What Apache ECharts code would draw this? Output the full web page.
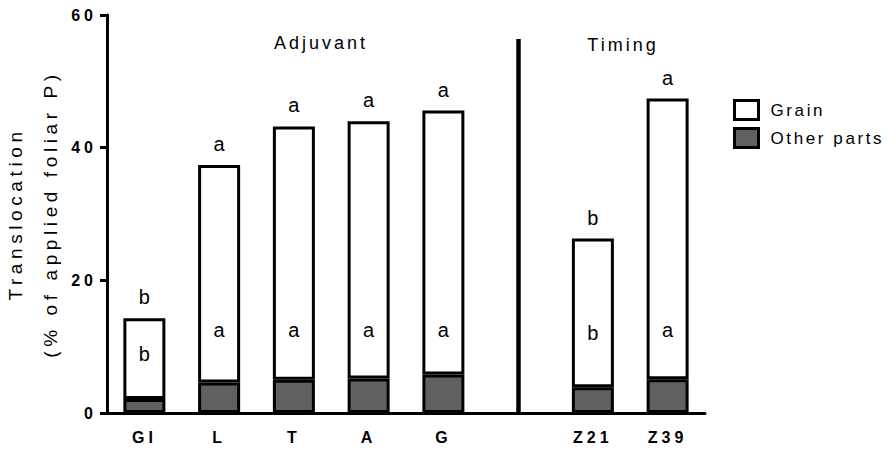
<!DOCTYPE html>
<html>
<head>
<meta charset="utf-8">
<script src="https://cdn.jsdelivr.net/npm/echarts@6/dist/echarts.min.js"></script>
<style>
  html, body { margin: 0; padding: 0; background: #fff; }
  #chart { width: 890px; height: 450px; }
  #chart svg text { letter-spacing: 0; }
  #chart svg text[style*="16px"] { letter-spacing: 4px; }
  #chart svg text[style*="17px"] { letter-spacing: 2.6px; }
  #chart svg text[style*="18px"] { letter-spacing: 3px; }
  #chart svg text[style*="19px"] { letter-spacing: 4.6px; }
</style>
</head>
<body>
<div id="chart"></div>
<script>
// ---- data ----
const categories   = ['GI', 'L', 'T', 'A', 'G', '', 'Z21', 'Z39'];
const totalValues  = [14.3, 37.4, 43.2, 44.0, 45.6, null, 26.3, 47.4];   // Grain + Other parts
const otherValues  = [2.1, 4.6, 5.0, 5.2, 5.8, null, 3.9, 5.1];         // Other parts
const topLetters   = ['b', 'a', 'a', 'a', 'a', '', 'b', 'a'];
const innerLetters = ['b', 'a', 'a', 'a', 'a', '', 'b', 'a'];
const innerLetterY = [8.9, 12.5, 12.5, 12.5, 12.5, null, 12.1, 12.5];
const separatorTop = 56.4;
const yTicks = [0, 20, 40, 60];

const grainValues = totalValues.map((t, i) => t == null ? null : +(t - otherValues[i]).toFixed(2));
const innerData = [];
innerLetterY.forEach((v, i) => { if (v != null) innerData.push([i, v, innerLetters[i]]); });

const FONT = 'Liberation Sans';
const chart = echarts.init(document.getElementById('chart'), null, { renderer: 'svg' });

chart.setOption({
  animation: false,
  backgroundColor: '#fff',
  textStyle: { fontFamily: FONT, color: '#000' },
  grid: { left: 107, right: 185, top: 15, bottom: 37, containLabel: false, outerBoundsMode: 'none' },
  legend: {
    data: ['Grain', 'Other parts'],
    orient: 'vertical',
    left: 733,
    top: 99,
    padding: 0,
    icon: 'rect',
    itemWidth: 24,
    itemHeight: 19,
    itemGap: 6,
    itemStyle: { borderWidth: 3, borderColor: '#000' },
    textStyle: { fontFamily: FONT, fontSize: 17, color: '#000', padding: [0, 0, 0, 7] }
  },
  xAxis: {
    type: 'category',
    data: categories,
    axisLine: { lineStyle: { color: '#000', width: 3 } },
    axisTick: { alignWithLabel: true, length: 6, lineStyle: { color: '#000', width: 3 } },
    axisLabel: { fontFamily: FONT, fontSize: 16, fontWeight: 'bold', color: '#000', margin: 16, interval: 0 },
    splitLine: { show: false }
  },
  yAxis: {
    type: 'value',
    min: yTicks[0],
    max: yTicks[yTicks.length - 1],
    interval: 20,
    name: 'Translocation\n(% of applied foliar P)',
    nameLocation: 'middle',
    nameRotate: 90,
    nameGap: 38,
    nameTextStyle: { fontFamily: FONT, fontSize: 19, color: '#000', lineHeight: 35 },
    axisLine: { show: true, lineStyle: { color: '#000', width: 3 } },
    axisTick: { show: true, length: 7, lineStyle: { color: '#000', width: 3 } },
    axisLabel: { fontFamily: FONT, fontSize: 16, fontWeight: 'bold', color: '#000', margin: 10 },
    splitLine: { show: false }
  },
  series: [
    {
      name: 'Other parts',
      type: 'bar',
      stack: 'total',
      barWidth: 42,
      data: otherValues,
      itemStyle: { color: '#606060', borderColor: '#000', borderWidth: 3 },
      markLine: {
        silent: true,
        symbol: 'none',
        label: { show: false },
        lineStyle: { color: '#000', width: 4.5, type: 'solid' },
        data: [[{ coord: [5, 0] }, { coord: [5, separatorTop] }]]
      }
    },
    {
      name: 'Grain',
      type: 'bar',
      stack: 'total',
      barWidth: 42,
      data: grainValues,
      itemStyle: { color: '#ffffff', borderColor: '#000', borderWidth: 3 },
      label: {
        show: true,
        position: 'top',
        distance: 11,
        fontFamily: FONT,
        fontSize: 20,
        color: '#000',
        formatter: p => topLetters[p.dataIndex]
      }
    },
    {
      name: 'letters',
      type: 'scatter',
      data: innerData,
      symbolSize: 1,
      itemStyle: { color: 'rgba(0,0,0,0)', opacity: 1 },
      silent: true,
      label: {
        show: true,
        position: 'inside',
        fontFamily: FONT,
        fontSize: 20,
        color: '#000',
        opacity: 1,
        formatter: p => p.data[2]
      }
    }
  ],
  graphic: [
    { type: 'text', x: 321, y: 43,
      style: { text: 'Adjuvant', fontFamily: FONT, fontSize: 18, fill: '#000', textAlign: 'center', textVerticalAlign: 'middle' } },
    { type: 'text', x: 623, y: 45,
      style: { text: 'Timing', fontFamily: FONT, fontSize: 18, fill: '#000', textAlign: 'center', textVerticalAlign: 'middle' } }
  ]
});
</script>
</body>
</html>
